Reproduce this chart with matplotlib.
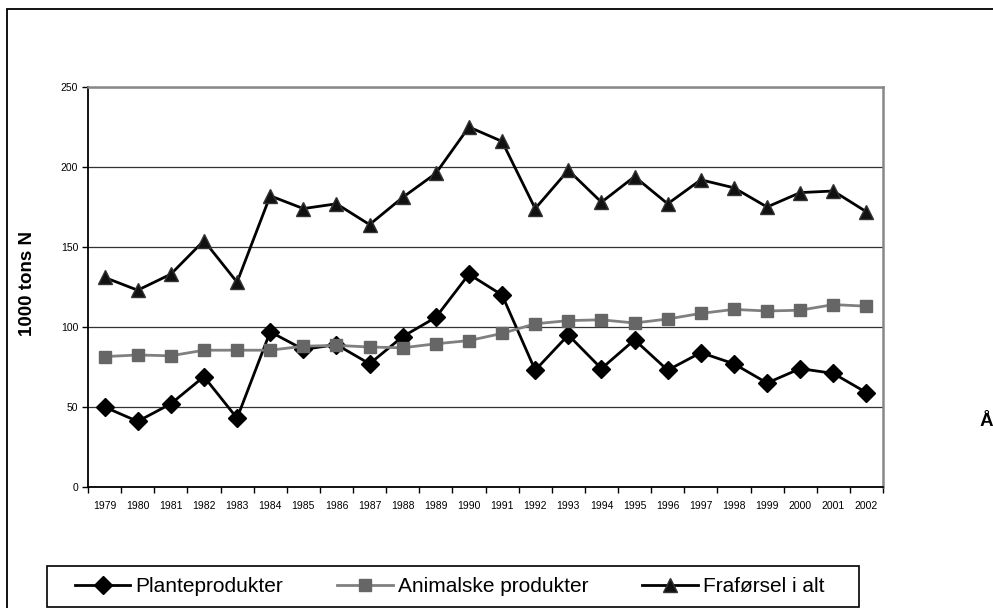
import matplotlib.pyplot as plt
from matplotlib.patches import Rectangle
import numpy as np

plt.rcParams['font.family'] = ['Liberation Sans', 'DejaVu Sans']

years = [str(y) for y in range(1979, 2003)]

plante = [50, 41, 52, 69, 43, 97, 86, 89, 77, 94, 106, 133, 120,
          73, 95, 74, 92, 73, 84, 77, 65, 74, 71, 59]
animalske = [81.5, 82.5, 82, 85.5, 85.5, 85.5, 88, 88.5, 87.5, 87, 89.5, 91.5, 96,
             102, 104, 104.5, 102.5, 105, 108.5, 111, 110, 110.5, 114, 113]
fraforsel = [131, 123, 133, 154, 128, 182, 174, 177, 164, 181, 196, 225, 216,
             174, 198, 178, 194, 177, 192, 187, 175, 184, 185, 172]

W, H = 993, 608
fig = plt.figure(figsize=(W / 100, H / 100), dpi=100)
ax = fig.add_axes([88 / W, 1 - 487 / H, (883 - 88) / W, (487 - 87) / H])

x = np.arange(len(years))
ax.plot(x, plante, color='black', lw=2, marker='D', ms=9,
        mfc='black', mec='black', label='Planteprodukter', zorder=3)
ax.plot(x, animalske, color='#808080', lw=2, marker='s', ms=9,
        mfc='#666666', mec='#666666', label='Animalske produkter', zorder=4)
ax.plot(x, fraforsel, color='black', lw=2, marker='^', ms=10,
        mfc='#111111', mec='#333333', label='Fraførsel i alt', zorder=5)

ax.set_xlim(-0.5, len(years) - 0.5)
ax.set_ylim(0, 250)
ax.set_yticks([0, 50, 100, 150, 200, 250])
ax.yaxis.grid(True, color='#333333', lw=0.9)
ax.set_axisbelow(True)

ax.set_xticks(x)
ax.set_xticklabels(years, fontsize=7.5)
ax.set_xticks(np.arange(-0.5, len(years), 1), minor=True)
ax.tick_params(axis='x', which='major', length=0, pad=10)
ax.tick_params(axis='x', which='minor', length=4, width=1, direction='out')
ax.tick_params(axis='y', length=4, width=1, direction='out', labelsize=7.5, pad=3)

for side in ['left', 'bottom']:
    ax.spines[side].set_color('black')
    ax.spines[side].set_linewidth(1.3)
for side in ['top', 'right']:
    ax.spines[side].set_color('#888888')
    ax.spines[side].set_linewidth(1.8)

ax.set_ylabel('1000 tons N', fontsize=13.5, fontweight='bold')
ax.yaxis.set_label_coords((36 - 88) / (883 - 88), (487 - 284) / (487 - 87))

# x-axis title sits at the right edge of the frame
fig.text(979 / W, 1 - 422 / H, 'Å', fontsize=13.5, fontweight='bold',
         ha='left', va='center')

# outer frame around the whole chart
fig.add_artist(Rectangle((7 / W, -0.5), 2, 1 - 9 / H + 0.5, transform=fig.transFigure,
                         fill=False, ec='black', lw=1.3))

# legend box
fig.add_artist(Rectangle((47 / W, 1 - 607 / H), (859 - 47) / W, (607 - 566) / H,
                         transform=fig.transFigure, fill=False, ec='black', lw=1.2))
handles, labels = ax.get_legend_handles_labels()
fig.legend(handles, labels, loc='center left', bbox_to_anchor=(75 / W, 1 - 587 / H),
           ncol=3, frameon=False, fontsize=15, borderpad=0, borderaxespad=0,
           handlelength=2.65, handletextpad=0.25, columnspacing=2.6)

fig.savefig('out.png', dpi=100)
